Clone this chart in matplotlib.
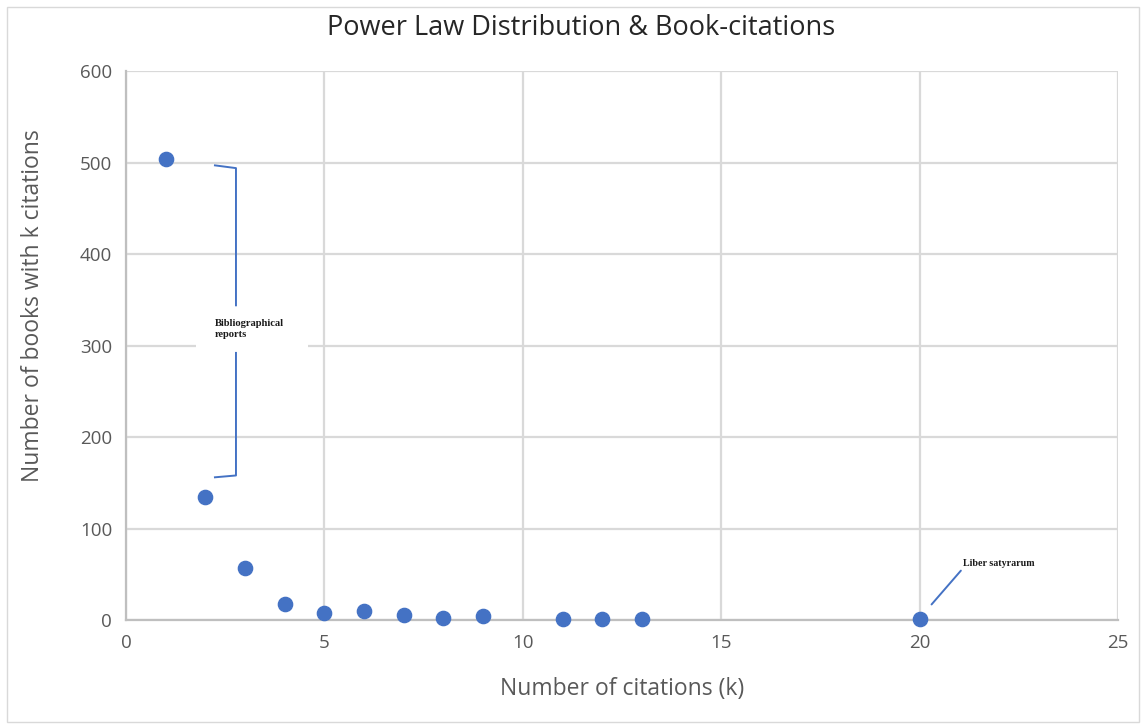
import matplotlib.pyplot as plt
from matplotlib.patches import Rectangle

# citations per book (k) and how many books have exactly k citations
citations = [1, 2, 3, 4, 5, 6, 7, 8, 9, 11, 12, 13, 20]
books = [504, 134, 57, 17, 8, 10, 6, 2, 4, 1, 1, 1, 1]

x_ticks = [0, 5, 10, 15, 20, 25]
y_ticks = [0, 100, 200, 300, 400, 500, 600]

BLUE = "#4472C4"
GREY_TEXT = "#595959"
GRID = "#d9d9d9"


def main():
    plt.rcParams["font.family"] = ["Open Sans", "DejaVu Sans"]
    fig = plt.figure(figsize=(11.46, 7.26), dpi=100)

    # thin frame around the whole chart area
    fig.patches.append(Rectangle((0.006, 0.006), 0.988, 0.985, transform=fig.transFigure,
                                 fill=False, edgecolor="#d9d9d9", linewidth=1.0))

    ax = fig.add_axes([0.110, 0.146, 0.8656, 0.756])
    ax.scatter(citations, books, s=105, color=BLUE, zorder=3, clip_on=False)

    ax.set_xlim(0, 25)
    ax.set_ylim(0, 600)
    ax.set_xticks(x_ticks)
    ax.set_yticks(y_ticks)
    ax.grid(True, color=GRID, linewidth=1.6)
    ax.set_axisbelow(True)
    for side in ["top", "right"]:
        ax.spines[side].set_visible(False)
    for side in ["left", "bottom"]:
        ax.spines[side].set_color("#bfbfbf")
        ax.spines[side].set_linewidth(1.6)
    ax.tick_params(length=0, labelsize=13.5, colors=GREY_TEXT, pad=10)

    # title is centred on the whole chart, not on the plot area
    fig.text(0.507, 0.961, "Power Law Distribution & Book-citations", fontsize=19.5,
             color="#262626", ha="center", va="center")
    ax.set_xlabel("Number of citations (k)", fontsize=16.5, color=GREY_TEXT, labelpad=18)
    ax.set_ylabel("Number of books with k citations", fontsize=16.5, color=GREY_TEXT)
    ax.yaxis.set_label_coords(-0.082, 0.572)

    # bracket marking the bibliographical reports (k = 1..2)
    ax.plot([2.24, 2.77, 2.77], [497, 494, 344], color=BLUE, linewidth=1.4, zorder=2)
    ax.plot([2.77, 2.77, 2.24], [292, 158, 156], color=BLUE, linewidth=1.4, zorder=2)
    ax.add_patch(Rectangle((1.76, 292), 2.83, 52, facecolor="white", edgecolor="none", zorder=1.5))
    ax.text(2.24, 318, "Bibliographical\nreports", fontsize=7.6, fontweight="bold",
            family=["Liberation Serif", "DejaVu Serif"], color="#1a1a1a",
            va="center", ha="left", linespacing=1.2, zorder=4)

    # label for the single most cited book
    ax.annotate("Liber satyrarum", xy=(20.3, 17), xytext=(21.1, 57),
                fontsize=7.2, fontweight="bold", family=["Liberation Serif", "DejaVu Serif"],
                color="#1a1a1a", va="bottom", ha="left",
                arrowprops=dict(arrowstyle="-", color=BLUE, linewidth=1.4,
                                shrinkA=0, shrinkB=0, relpos=(0, 0)))

    fig.savefig("out.png", dpi=100)
    plt.close(fig)


if __name__ == "__main__":
    main()
